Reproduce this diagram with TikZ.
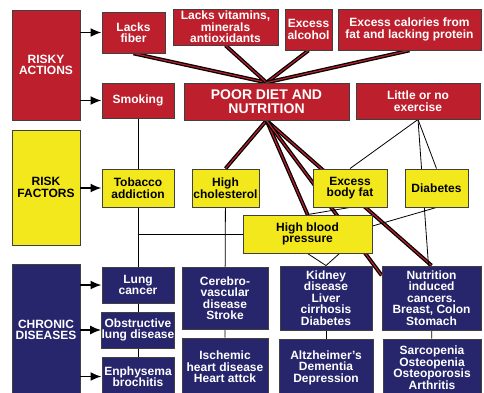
\documentclass[tikz,border=0pt]{standalone}
\usepackage{fontspec}
\setmainfont{Liberation Sans}
\usepackage{xcolor}
\usepackage{tikz}
\usetikzlibrary{arrows.meta,backgrounds,calc}
\definecolor{dietred}{HTML}{BD1F2C}
\definecolor{riskyellow}{HTML}{F2E81C}
\definecolor{chronicblue}{HTML}{27256C}

\begin{document}
\begin{tikzpicture}[x=1pt,y=-1pt,
		box/.style={draw=black!75,line width=0.9pt,align=center,inner sep=0pt,
			font=\fontsize{12}{11.5}\selectfont\bfseries},
		redbox/.style={box,fill=dietred,text=white},
		yellowbox/.style={box,fill=riskyellow,text=black},
		bluebox/.style={box,fill=chronicblue,text=white},
		dietlink/.style={draw=black,line width=1.3pt,double=dietred,double distance=1.2pt},
		link/.style={draw=black,line width=0.8pt},
		feed/.style={-{Latex[length=11pt,width=9pt]},line width=1.9pt}]
			\useasboundingbox (0,0) rectangle (484,392);
			% Risky actions
			\node[redbox,minimum width=68pt,minimum height=110pt] (risky) at (46,65) {RISKY\\ACTIONS};
			\node[redbox,minimum width=63pt,minimum height=41pt] (fiber) at (133.5,32.5) {Lacks\\fiber};
			\node[redbox,minimum width=105pt,minimum height=36pt] (vitamins) at (225.5,27) {Lacks vitamins,\\minerals\\antioxidants};
			\node[redbox,minimum width=47pt,minimum height=41pt] (alcohol) at (308.5,29.5) {Excess\\alcohol};
			\node[redbox,minimum width=143pt,minimum height=41pt] (calories) at (409.5,29.5) {Excess calories from\\fat and lacking protein};
			\node[redbox,minimum width=72pt,minimum height=35pt] (smoking) at (138,100.5) {Smoking};
			\node[redbox,minimum width=165pt,minimum height=37pt,font=\fontsize{14}{14.5}\selectfont\bfseries] (poor) at (266.5,101.5) {POOR DIET AND\\NUTRITION};
			\node[redbox,minimum width=124pt,minimum height=36pt] (exercise) at (418,101) {Little or no\\exercise};
			% Risk factors
			\node[yellowbox,minimum width=68pt,minimum height=115pt] (factors) at (46,187.5) {RISK\\FACTORS};
			\node[yellowbox,minimum width=72pt,minimum height=38pt] (tobacco) at (138,188) {Tobacco\\addiction};
			\node[yellowbox,minimum width=67pt,minimum height=38pt] (chol) at (225.5,188) {High\\cholesterol};
			\node[yellowbox,minimum width=74pt,minimum height=38pt] (bodyfat) at (350,188) {Excess\\body fat};
			\node[yellowbox,minimum width=63pt,minimum height=38pt] (diabetes) at (436.5,188) {Diabetes};
			\node[yellowbox,minimum width=129pt,minimum height=38pt] (hbp) at (307.5,234) {High blood\\pressure};
			% Chronic diseases
			\node[bluebox,minimum width=68pt,minimum height=132pt] (chronic) at (46,330) {CHRONIC\\DISEASES};
			\node[bluebox,minimum width=72pt,minimum height=36pt] (lung) at (138,285) {Lung\\cancer};
			\node[bluebox,minimum width=72pt,minimum height=36pt] (obstr) at (138,330) {Obstructive\\lung disease};
			\node[bluebox,minimum width=72pt,minimum height=39pt] (emph) at (138,376.5) {Enphysema\\brochitis};
			\node[bluebox,minimum width=86pt,minimum height=62pt] (cerebro) at (225,298) {Cerebro-\\vascular\\disease\\Stroke};
			\node[bluebox,minimum width=86pt,minimum height=58pt] (ischemic) at (225,367) {Ischemic\\heart disease\\Heart attck};
			\node[bluebox,minimum width=92pt,minimum height=64pt] (kidney) at (326,298) {Kidney\\disease\\Liver\\cirrhosis\\Diabetes};
			\node[bluebox,minimum width=99pt,minimum height=64pt] (nutrcancer) at (431.5,298) {Nutrition\\induced\\cancers.\\Breast, Colon\\Stomach};
			\node[bluebox,minimum width=94pt,minimum height=57pt] (altz) at (326,367.5) {Altzheimer's\\Dementia\\Depression};
			\node[bluebox,minimum width=98pt,minimum height=57pt] (sarco) at (432,367.5) {Sarcopenia\\Osteopenia\\Osteoporosis\\Arthritis};
			% Arrows from the side boxes
			\draw[feed] (risky.east |- fiber.west) -- (fiber.west);
			\draw[feed] (risky.east |- smoking.west) -- (smoking.west);
			\draw[feed] (factors.east |- tobacco.west) -- (tobacco.west);
			\draw[feed] (chronic.east |- lung.west) -- (lung.west);
			\draw[feed] (chronic.east |- obstr.west) -- (obstr.west);
			\draw[feed] (chronic.east |- emph.west) -- (emph.west);
			\begin{scope}[on background layer]
				\fill[white] (0,0) rectangle (484,392);
				% Diet links
				\foreach \a in {fiber,vitamins,alcohol,calories}
				\draw[dietlink] (\a.south) -- (poor.north);
				\foreach \b in {chol,hbp,nutrcancer}
				\draw[dietlink] (poor.south) -- (\b.north);
				\draw[dietlink] (poor.south) -- ($(nutrcancer.north west)!0.15!(nutrcancer.south west)$);
				% Thin links
				\draw[link] (smoking) -- (tobacco) -- (lung) -- (obstr) -- (emph);
				\draw[link] (tobacco.south |- hbp.west) -- (hbp.west);
				\draw[link] (chol) -- (cerebro) -- (ischemic);
				\draw[link] (kidney) -- (altz);
				\draw[link] (nutrcancer) -- (sarco);
				\draw[link] (bodyfat.north) -- (exercise.south) -- (diabetes.north);
				\draw[link] (exercise.south) -- ([xshift=-3pt]nutrcancer.north);
				\draw[link] (diabetes.south) -- ([yshift=8pt]hbp.east);
				\draw[link] (bodyfat.south) -- (hbp.north);
				\draw[link] (hbp.south) -- (kidney.north) -- ([xshift=32pt]hbp.south);
			\end{scope}
		\end{tikzpicture}
\end{document}
